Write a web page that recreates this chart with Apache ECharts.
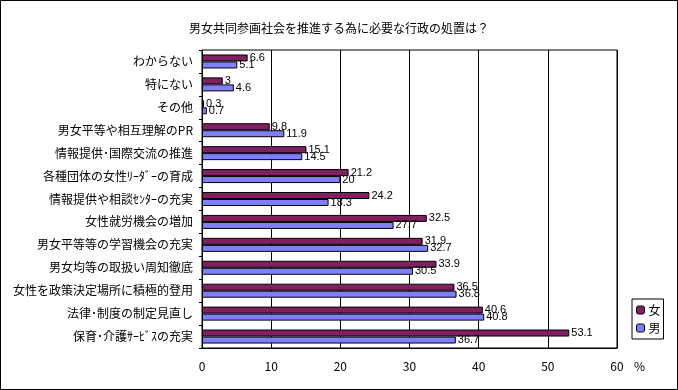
<!DOCTYPE html>
<html>
<head>
<meta charset="utf-8">
<script src="https://cdn.jsdelivr.net/npm/echarts@6/dist/echarts.min.js"></script>
<style>
html,body{margin:0;padding:0;background:#fff;}
#chart{width:678px;height:390px;}
</style>
</head>
<body>
<div id="chart"></div>
<script>
const categories = [
  'わからない',
  '特にない',
  'その他',
  '男女平等や相互理解のPR',
  '情報提供･国際交流の推進',
  '各種団体の女性ﾘｰﾀﾞｰの育成',
  '情報提供や相談ｾﾝﾀｰの充実',
  '女性就労機会の増加',
  '男女平等等の学習機会の充実',
  '男女均等の取扱い周知徹底',
  '女性を政策決定場所に積極的登用',
  '法律･制度の制定見直し',
  '保育･介護ｻｰﾋﾞｽの充実'
];
const femaleValues = [6.6, 3, 0.3, 9.8, 15.1, 21.2, 24.2, 32.5, 31.9, 33.9, 36.5, 40.6, 53.1];
const maleValues = [5.1, 4.6, 0.7, 11.9, 14.5, 20, 18.3, 27.7, 32.7, 30.5, 36.8, 40.8, 36.7];
const xTicks = [0, 10, 20, 30, 40, 50, 60];
const titleText = '男女共同参画社会を推進する為に必要な行政の処置は？';
const unitText = '%';

const FONT = '"Noto Sans CJK JP", "Noto Sans", sans-serif';
const chart = echarts.init(document.getElementById('chart'), null, {renderer: 'canvas'});

const labelStyle = {
  show: true,
  position: 'right',
  distance: 2,
  color: '#000',
  fontSize: 11,
  fontFamily: '"Liberation Sans", Arial, sans-serif'
};

chart.setOption({
  animation: false,
  backgroundColor: '#fff',
  title: {
    text: titleText,
    left: 'center',
    top: 17,
    textStyle: {fontSize: 12, fontWeight: 'normal', color: '#000', fontFamily: FONT}
  },
  legend: {
    orient: 'vertical',
    left: 632,
    top: 299,
    padding: [5, 3, 5, 4],
    itemGap: 6,
    itemWidth: 8,
    itemHeight: 8,
    borderColor: '#000',
    borderWidth: 1,
    backgroundColor: '#fff',
    itemStyle: {borderColor: '#000', borderWidth: 1},
    textStyle: {fontSize: 12, color: '#000', fontFamily: FONT, padding: [0, 0, 0, -1]},
    data: ['女', '男']
  },
  grid: {
    left: 202, top: 50, right: 61, bottom: 42,
    show: true, borderColor: '#000', borderWidth: 1,
    containLabel: false
  },
  xAxis: {
    type: 'value',
    min: xTicks[0],
    max: xTicks[xTicks.length - 1],
    interval: 10,
    axisLine: {show: true, lineStyle: {color: '#000'}},
    axisTick: {show: false},
    splitLine: {show: true, lineStyle: {color: '#000', width: 1}},
    axisLabel: {margin: 12, fontSize: 12, color: '#000', fontFamily: FONT}
  },
  yAxis: {
    type: 'category',
    inverse: true,
    data: categories,
    axisLine: {show: true, lineStyle: {color: '#000'}},
    axisTick: {show: true, length: 3, lineStyle: {color: '#000'}},
    splitLine: {show: false},
    axisLabel: {margin: 9, fontSize: 12, color: '#000', fontFamily: FONT}
  },
  graphic: [
    {type: 'text', left: 634, top: 360, style: {text: unitText, fontSize: 12, fill: '#000', fontFamily: FONT}},
    {type: 'rect', shape: {x: 0.5, y: 0.5, width: 677, height: 389}, style: {fill: null, stroke: '#000', lineWidth: 1}, silent: true, z: 100}
  ],
  series: [
    {
      name: '女', type: 'bar', data: femaleValues,
      barWidth: 7, barGap: '0%',
      itemStyle: {color: '#802060', borderColor: '#000', borderWidth: 1},
      label: labelStyle
    },
    {
      name: '男', type: 'bar', data: maleValues,
      barWidth: 7, barGap: '0%',
      itemStyle: {color: '#8080ff', borderColor: '#000', borderWidth: 1},
      label: labelStyle
    }
  ]
});
</script>
</body>
</html>
